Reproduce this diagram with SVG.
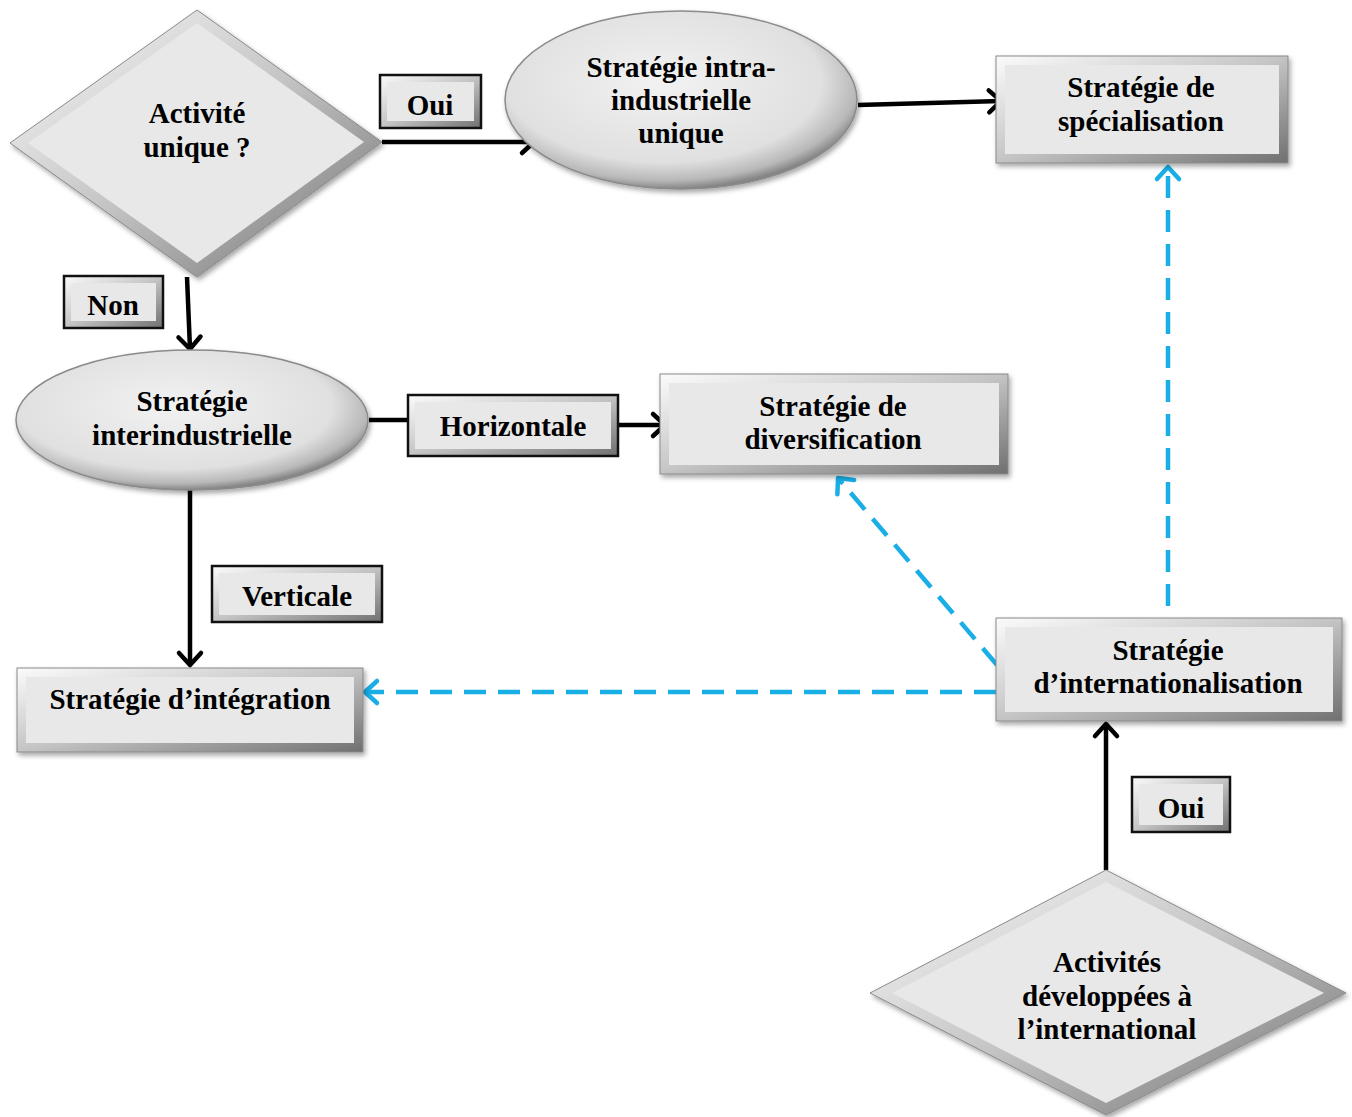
<svg xmlns="http://www.w3.org/2000/svg" width="1352" height="1117" viewBox="0 0 1352 1117">
<defs>
<linearGradient id="bev" x1="0" y1="0" x2="1" y2="1">
<stop offset="0" stop-color="#fbfbfb"/><stop offset="0.5" stop-color="#c4c4c4"/><stop offset="1" stop-color="#707070"/>
</linearGradient>
<radialGradient id="ell" cx="0.45" cy="0.4" r="0.6">
<stop offset="0" stop-color="#f2f2f2"/><stop offset="0.75" stop-color="#e0e0e0"/><stop offset="0.92" stop-color="#b8b8b8"/><stop offset="1" stop-color="#858585"/>
</radialGradient>
<filter id="sh" x="-10%" y="-10%" width="125%" height="130%">
<feDropShadow dx="2" dy="3" stdDeviation="2.5" flood-color="#000" flood-opacity="0.35"/>
</filter>
<marker id="ah" markerUnits="userSpaceOnUse" markerWidth="30" markerHeight="30" refX="14" refY="12" orient="auto" overflow="visible">
<path d="M2,1 L14,12 L2,23" fill="none" stroke="#000" stroke-width="4.5" stroke-linecap="round" stroke-linejoin="round"/>
</marker>
<marker id="ab" markerUnits="userSpaceOnUse" markerWidth="30" markerHeight="30" refX="14" refY="12" orient="auto" overflow="visible">
<path d="M2,1 L14,12 L2,23" fill="none" stroke="#1aaee6" stroke-width="4.5" stroke-linecap="round" stroke-linejoin="round"/>
</marker>
</defs>
<style>
.outer{fill:url(#bev);stroke:#8a8a8a;stroke-width:1;filter:url(#sh)}
.inner{fill:#e8e8e8;stroke:none}
.lbl{fill:url(#bev);stroke:#111;stroke-width:2.5}
.ell{fill:url(#ell);stroke:#8a8a8a;stroke-width:1.5;filter:url(#sh)}
text{font-family:"Liberation Serif","Times New Roman",serif;font-weight:bold;font-size:29px;fill:#000;text-anchor:middle}
.con{fill:none;stroke:#000;stroke-width:4.5}
.dash{fill:none;stroke:#1aaee6;stroke-width:4.5;stroke-dasharray:22 12}
</style>
<rect width="1352" height="1117" fill="#fff"/>

<g id="connectors">
<line class="con" x1="382" y1="142" x2="534" y2="142" marker-end="url(#ah)"/>
<line class="con" x1="858" y1="105" x2="1001" y2="101" marker-end="url(#ah)"/>
<line class="con" x1="187" y1="277" x2="190" y2="349" marker-end="url(#ah)"/>
<line class="con" x1="369" y1="420" x2="410" y2="420"/>
<line class="con" x1="617" y1="425" x2="665" y2="425" marker-end="url(#ah)"/>
<line class="con" x1="190" y1="489" x2="190" y2="665" marker-end="url(#ah)"/>
<line class="con" x1="1106" y1="870" x2="1106" y2="724" marker-end="url(#ah)"/>
<line class="dash" x1="1168" y1="606" x2="1168" y2="167" marker-end="url(#ab)"/>
<line class="dash" x1="997" y1="665" x2="838" y2="478" marker-end="url(#ab)"/>
<line class="dash" x1="996" y1="692" x2="365" y2="692" marker-end="url(#ab)"/>
</g>

<g id="n-activite">
<polygon class="outer" points="10,143 197,10 382,142 197,277"/>
<polygon class="inner" points="28,143 197,23 364,142 197,263"/>
<text x="197" y="123">Activité</text>
<text x="197" y="157">unique ?</text>
</g>

<g id="l-oui1">
<rect class="lbl" x="380" y="75" width="101" height="53"/>
<rect class="inner" x="387" y="82" width="87" height="39"/>
<text x="430" y="115">Oui</text>
</g>

<g id="n-intra">
<ellipse class="ell" cx="681" cy="100" rx="176" ry="89"/>
<text x="681" y="77">Stratégie intra-</text>
<text x="681" y="110">industrielle</text>
<text x="681" y="143">unique</text>
</g>

<g id="n-specialisation">
<rect class="outer" x="996" y="56" width="292" height="107"/>
<rect class="inner" x="1005" y="65" width="274" height="89"/>
<text x="1141" y="97">Stratégie de</text>
<text x="1141" y="131">spécialisation</text>
</g>

<g id="l-non">
<rect class="lbl" x="64" y="276" width="99" height="52"/>
<rect class="inner" x="71" y="283" width="85" height="38"/>
<text x="113" y="315">Non</text>
</g>

<g id="n-interindustrielle">
<ellipse class="ell" cx="192" cy="420" rx="176" ry="70"/>
<text x="192" y="411">Stratégie</text>
<text x="192" y="445">interindustrielle</text>
</g>

<g id="l-horizontale">
<rect class="lbl" x="408" y="395" width="210" height="61"/>
<rect class="inner" x="415" y="402" width="196" height="47"/>
<text x="513" y="436">Horizontale</text>
</g>

<g id="n-diversification">
<rect class="outer" x="660" y="374" width="348" height="100"/>
<rect class="inner" x="669" y="383" width="330" height="82"/>
<text x="833" y="416">Stratégie de</text>
<text x="833" y="449">diversification</text>
</g>

<g id="l-verticale">
<rect class="lbl" x="212" y="566" width="170" height="56"/>
<rect class="inner" x="219" y="573" width="156" height="42"/>
<text x="297" y="606">Verticale</text>
</g>

<g id="n-integration">
<rect class="outer" x="17" y="668" width="346" height="84"/>
<rect class="inner" x="26" y="677" width="328" height="66"/>
<text x="190" y="709">Stratégie d’intégration</text>
</g>

<g id="n-internationalisation">
<rect class="outer" x="996" y="618" width="346" height="103"/>
<rect class="inner" x="1005" y="627" width="328" height="85"/>
<text x="1168" y="660">Stratégie</text>
<text x="1168" y="693">d’internationalisation</text>
</g>

<g id="l-oui2">
<rect class="lbl" x="1132" y="777" width="98" height="55"/>
<rect class="inner" x="1139" y="784" width="84" height="41"/>
<text x="1181" y="818">Oui</text>
</g>

<g id="n-activites">
<polygon class="outer" points="870,993 1106,870 1346,993 1106,1115"/>
<polygon class="inner" points="892,993 1106,882 1324,993 1106,1103"/>
<text x="1107" y="972">Activités</text>
<text x="1107" y="1006">développées à</text>
<text x="1107" y="1039">l’international</text>
</g>
</svg>
